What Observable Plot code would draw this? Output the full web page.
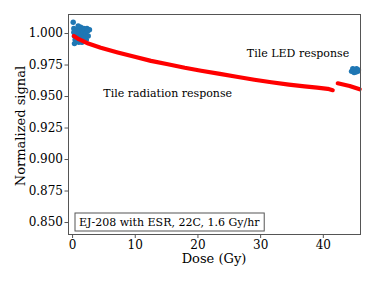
<!DOCTYPE html>
<html><head><meta charset="utf-8">
<script src="https://cdn.jsdelivr.net/npm/d3@7"></script>
<script src="https://cdn.jsdelivr.net/npm/@observablehq/plot@0.6"></script>
<style>body{margin:0;background:#fff} svg{font-family:"DejaVu Serif",serif}</style>
</head><body><div id="chart"></div>
<script>
// LED response (blue) – dose (Gy) and normalized signal
const ledDose = [0.1,0.2,0.3,0.4,0.3,0.5,0.6,0.7,0.8,0.9,1.0,1.1,1.2,1.3,1.4,1.5,1.6,1.7,1.8,1.9,2.0,2.1,2.2,2.3,2.4,2.5,0.2,0.9,1.5,2.7,
                 44.5,44.7,44.9,45.1,45.3,45.5,45.6,44.8,45.2];
const ledSignal = [1.009,1.004,0.998,0.995,0.992,1.001,0.999,1.003,0.996,1.000,0.993,1.002,0.997,1.005,0.999,1.003,0.995,1.001,1.004,0.998,1.003,1.000,0.995,1.004,1.002,0.998,1.001,1.006,0.993,1.003,
                   0.970,0.972,0.969,0.971,0.972,0.970,0.971,0.9715,0.9695];
// Radiation response (red), two runs
const radDose1 = [0.2,1.0,2.5,4.5,7.2,9.9,12.5,15.2,17.9,20.5,23.5,26.4,29.0,31.7,34.5,37.0,39.0,40.7,41.5];
const radSignal1 = [0.998,0.9955,0.992,0.9887,0.985,0.9815,0.9783,0.9756,0.9728,0.9705,0.968,0.9655,0.9633,0.9613,0.9595,0.958,0.957,0.9561,0.955];
const radDose2 = [42.3,44.2,45.8];
const radSignal2 = [0.9605,0.9584,0.9558];
const yTicks = [0.850,0.875,0.900,0.925,0.950,0.975,1.000];
const xTicks = [0,10,20,30,40];
const labels = [
  {dose: 27.8, signal: 0.9845, text: "Tile LED response"},
  {dose: 4.9, signal: 0.9527, text: "Tile radiation response"}
];
const legendText = "EJ-208 with ESR, 22C, 1.6 Gy/hr";

const led = ledDose.map((d,i)=>({dose:d, signal:ledSignal[i]}));
const rad = [
  ...radDose1.map((d,i)=>({dose:d, signal:radSignal1[i], run:1})),
  ...radDose2.map((d,i)=>({dose:d, signal:radSignal2[i], run:2}))
];

const plot = Plot.plot({
  width: 374, height: 281,
  marginLeft: 68, marginRight: 14, marginTop: 14, marginBottom: 47,
  style: {fontFamily: "DejaVu Serif", fontSize: "12px", color: "black", background: "white"},
  x: {domain: [-0.65, 45.93]},
  y: {domain: [0.8405, 1.0151]},
  marks: [
    Plot.dot(led, {x: "dose", y: "signal", r: 2.7, fill: "#1f77b4", stroke: "none"}),
    Plot.line(rad, {x: "dose", y: "signal", z: "run", stroke: "#ff0000", strokeWidth: 4.2, curve: "linear"}),
    Plot.text(labels, {x: "dose", y: "signal", text: "text", textAnchor: "start", fontSize: 11, fill: "black"}),
    Plot.axisX({ticks: xTicks, tickSize: 4, tickPadding: 2, label: null, stroke: "#555"}),
    Plot.axisY({ticks: yTicks, tickSize: 3.5, tickPadding: 2, tickFormat: d3.format(".3f"), label: null, stroke: "#555"}),
    Plot.frame({stroke: "#555", strokeWidth: 1})
  ]
});
document.getElementById("chart").appendChild(plot);

const svg = d3.select(plot);
svg.append("text").attr("x", 214).attr("y", 263).attr("text-anchor", "middle")
  .attr("font-size", 13).attr("fill", "black").text("Dose (Gy)");
svg.append("text").attr("transform", "translate(20,126) rotate(-90)").attr("text-anchor", "middle")
  .attr("dy", "0.35em").attr("font-size", 13).attr("fill", "black").text("Normalized signal");
const lg = svg.append("g");
const lt = lg.append("text").attr("x", 79).attr("y", 222).attr("dy", "0.35em").attr("text-anchor", "start")
  .attr("font-size", 11).attr("fill", "black").text(legendText);
const bb = lt.node().getBBox();
lg.insert("rect", "text").attr("x", bb.x - 4).attr("y", 213).attr("width", bb.width + 8).attr("height", 18)
  .attr("fill", "white").attr("stroke", "#555").attr("stroke-width", 1);
</script></body></html>
